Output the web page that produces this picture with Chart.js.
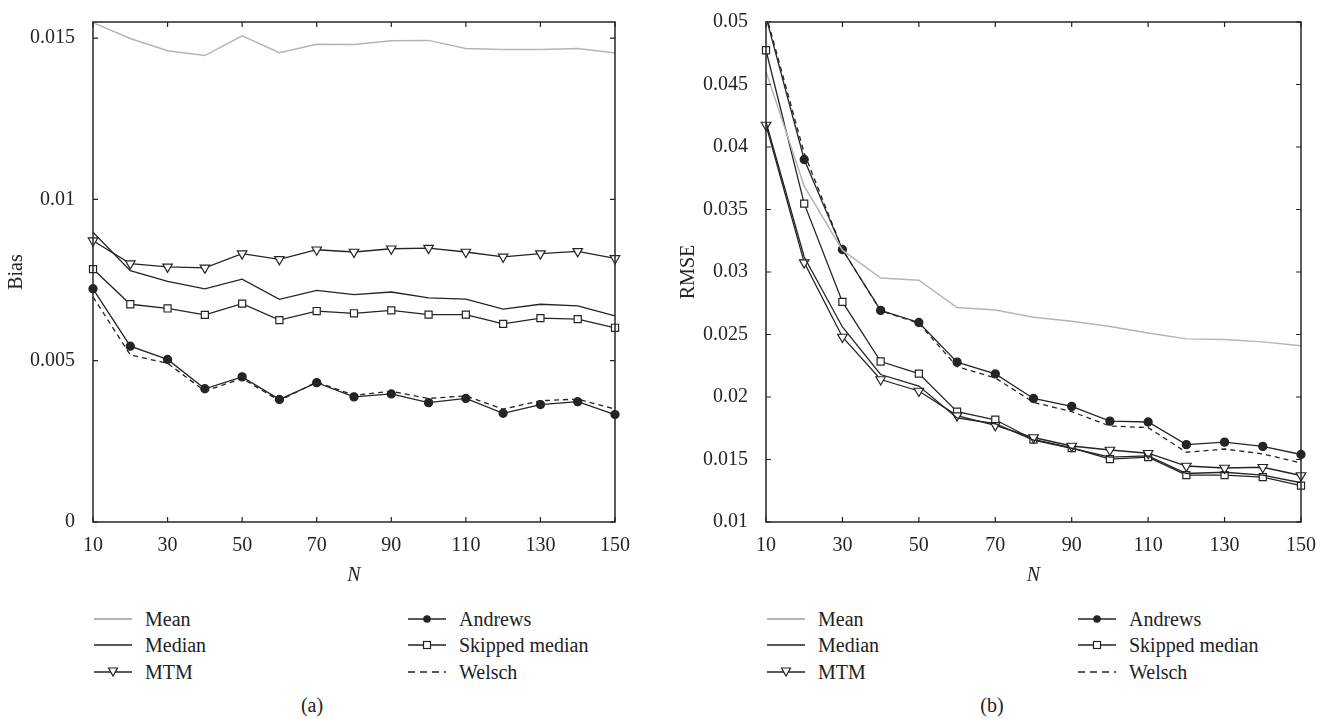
<!DOCTYPE html>
<html>
<head>
<meta charset="utf-8">
<script src="https://cdn.jsdelivr.net/npm/chart.js@4.4.1/dist/chart.umd.min.js"></script>
<style>
  body { margin: 0; background: #fff; font-family: "Liberation Serif", serif; color: #222; }
  #page { position: relative; width: 1326px; height: 719px; overflow: hidden; }
  .box { position: absolute; top: 0; height: 600px; width: 663px; }
  .leg { position: absolute; height: 26px; display: flex; align-items: center; font-size: 20px; white-space: nowrap; }
  .leg svg { margin-right: 13px; }
  .cap { position: absolute; top: 694px; font-size: 20px; transform: translateX(-50%); }
</style>
</head>
<body>
<div id="page">
  <div class="box" style="left:0"><canvas id="biasChart"></canvas></div>
  <div class="box" style="left:663px"><canvas id="rmseChart"></canvas></div>
  <div class="cap" style="left:312px">(a)</div>
  <div class="cap" style="left:992px">(b)</div>
</div>
<script>
const nValues = [10, 20, 30, 40, 50, 60, 70, 80, 90, 100, 110, 120, 130, 140, 150];
const xTicks = [10, 30, 50, 70, 90, 110, 130, 150];
const seriesNames = ['Mean', 'Median', 'MTM', 'Andrews', 'Skipped median', 'Welsch'];

// (a) Bias
const biasMean    = [0.01548, 0.01499, 0.01461, 0.01446, 0.01507, 0.01455, 0.01481, 0.01480, 0.01492, 0.01493, 0.01468, 0.01465, 0.01465, 0.01468, 0.01454];
const biasMedian  = [0.00898, 0.00779, 0.00746, 0.00723, 0.00753, 0.00690, 0.00718, 0.00705, 0.00713, 0.00695, 0.00691, 0.00660, 0.00675, 0.00670, 0.00639];
const biasMTM     = [0.00872, 0.00801, 0.00791, 0.00788, 0.00832, 0.00814, 0.00844, 0.00837, 0.00847, 0.00849, 0.00837, 0.00822, 0.00832, 0.00839, 0.00817];
const biasAndrews = [0.00723, 0.00545, 0.00504, 0.00413, 0.00450, 0.00380, 0.00432, 0.00388, 0.00397, 0.00370, 0.00383, 0.00337, 0.00364, 0.00373, 0.00333];
const biasSkipped = [0.00784, 0.00675, 0.00662, 0.00642, 0.00677, 0.00626, 0.00654, 0.00647, 0.00656, 0.00643, 0.00643, 0.00614, 0.00632, 0.00629, 0.00602];
const biasWelsch  = [0.00698, 0.00518, 0.00492, 0.00406, 0.00445, 0.00376, 0.00434, 0.00393, 0.00405, 0.00383, 0.00391, 0.00350, 0.00376, 0.00381, 0.00350];
const biasTicks = [0, 0.005, 0.01, 0.015];

// (b) RMSE
const rmseMean    = [0.04603, 0.03686, 0.03175, 0.02952, 0.02934, 0.02716, 0.02696, 0.02638, 0.02606, 0.02564, 0.02512, 0.02465, 0.02460, 0.02441, 0.02410];
const rmseMedian  = [0.04200, 0.03120, 0.02560, 0.02180, 0.02087, 0.01833, 0.01786, 0.01655, 0.01590, 0.01519, 0.01529, 0.01388, 0.01398, 0.01375, 0.01314];
const rmseMTM     = [0.04176, 0.03075, 0.02480, 0.02140, 0.02048, 0.01851, 0.01773, 0.01676, 0.01608, 0.01576, 0.01550, 0.01448, 0.01432, 0.01438, 0.01372];
const rmseAndrews = [0.05040, 0.03900, 0.03180, 0.02693, 0.02596, 0.02279, 0.02185, 0.01988, 0.01925, 0.01807, 0.01800, 0.01619, 0.01639, 0.01605, 0.01540];
const rmseSkipped = [0.04774, 0.03547, 0.02761, 0.02284, 0.02187, 0.01883, 0.01818, 0.01660, 0.01592, 0.01503, 0.01519, 0.01375, 0.01375, 0.01359, 0.01291];
const rmseWelsch  = [0.05060, 0.03950, 0.03180, 0.02690, 0.02590, 0.02242, 0.02153, 0.01957, 0.01883, 0.01768, 0.01755, 0.01558, 0.01584, 0.01545, 0.01472];
const rmseTicks = [0.01, 0.015, 0.02, 0.025, 0.03, 0.035, 0.04, 0.045, 0.05];

const INK = '#242424';
const GREY = '#b5b5b5';
const styles = [
  { borderColor: GREY, borderWidth: 1.5, pointRadius: 0 },
  { borderColor: INK, borderWidth: 1.3, pointRadius: 0 },
  { borderColor: INK, borderWidth: 1.3, pointStyle: 'triangle', rotation: 180, pointRadius: 5.5, pointBackgroundColor: '#fff', pointBorderColor: INK, pointBorderWidth: 1.2 },
  { borderColor: INK, borderWidth: 1.3, pointStyle: 'circle', pointRadius: 4, pointBackgroundColor: INK, pointBorderColor: INK },
  { borderColor: INK, borderWidth: 1.3, pointStyle: 'rect', pointRadius: 5, pointBackgroundColor: '#fff', pointBorderColor: INK, pointBorderWidth: 1.2 },
  { borderColor: INK, borderWidth: 1.3, borderDash: [5, 4], pointRadius: 0 }
];

const font = { family: '"Liberation Serif", serif', size: 20 };

// box frame plus inward tick marks on all four sides
const frameTicks = {
  id: 'frameTicks',
  afterDatasetsDraw(chart) {
    const { ctx, chartArea: a, scales: { x, y } } = chart;
    ctx.save();
    ctx.strokeStyle = INK;
    ctx.lineWidth = 1.5;
    ctx.strokeRect(a.left, a.top, a.right - a.left, a.bottom - a.top);
    ctx.lineWidth = 1.2;
    ctx.beginPath();
    x.ticks.forEach(t => {
      const px = x.getPixelForValue(t.value);
      ctx.moveTo(px, a.bottom); ctx.lineTo(px, a.bottom - 5);
      ctx.moveTo(px, a.top); ctx.lineTo(px, a.top + 5);
    });
    y.ticks.forEach(t => {
      const py = y.getPixelForValue(t.value);
      ctx.moveTo(a.left, py); ctx.lineTo(a.left + 5, py);
      ctx.moveTo(a.right, py); ctx.lineTo(a.right - 5, py);
    });
    ctx.stroke();
    ctx.restore();
  }
};

function makeChart(id, series, yTicks, yMin, yMax, yTitle, yWidth, titlePad, padRight, padTop, clip) {
  return new Chart(document.getElementById(id), {
    type: 'line',
    data: {
      labels: nValues,
      datasets: series.map((vals, i) => Object.assign({
        label: seriesNames[i],
        data: nValues.map((n, k) => ({ x: n, y: vals[k] })),
        fill: false,
        tension: 0,
        clip: clip
      }, styles[i]))
    },
    options: {
      responsive: true,
      maintainAspectRatio: false,
      animation: false,
      layout: { padding: { left: 0, right: padRight, top: padTop, bottom: 0 } },
      plugins: { legend: { display: false }, tooltip: { enabled: false } },
      scales: {
        x: {
          type: 'linear', min: 10, max: 150,
          afterBuildTicks: s => { s.ticks = xTicks.map(v => ({ value: v })); },
          afterFit: s => { s.height = 78; },
          grid: { display: false },
          border: { display: false },
          ticks: { font: font, color: INK, padding: 4, maxRotation: 0, callback: v => String(v) },
          title: { display: true, text: 'N', font: Object.assign({ style: 'italic' }, font), color: INK, padding: { top: 0, bottom: 12 } }
        },
        y: {
          min: yMin, max: yMax,
          afterBuildTicks: s => { s.ticks = yTicks.map(v => ({ value: v })); },
          afterFit: s => { s.width = yWidth; },
          grid: { display: false },
          border: { display: false },
          ticks: { font: font, color: INK, padding: 10, callback: v => String(v) },
          title: { display: true, text: yTitle, font: font, color: INK, padding: { top: titlePad, bottom: 0 } }
        }
      }
    },
    plugins: [frameTicks]
  });
}

makeChart('biasChart', [biasMean, biasMedian, biasMTM, biasAndrews, biasSkipped, biasWelsch],
  biasTicks, 0, 0.0155, 'Bias', 93, 5, 48, 13, false);
makeChart('rmseChart', [rmseMean, rmseMedian, rmseMTM, rmseAndrews, rmseSkipped, rmseWelsch],
  rmseTicks, 0.01, 0.05, 'RMSE', 103, 14, 25, 11, { left: 10, top: 0, right: 10, bottom: 10 });

// legends (two columns under each panel)
function icon(i) {
  const s = styles[i];
  let svg = '<svg width="38" height="14" viewBox="0 0 38 14">';
  const dash = s.borderDash ? ' stroke-dasharray="7 5"' : '';
  svg += '<line x1="0" y1="7" x2="38" y2="7" stroke="' + s.borderColor + '" stroke-width="' + (s.borderWidth + 0.3) + '"' + dash + '/>';
  if (s.pointStyle === 'circle') svg += '<circle cx="19" cy="7" r="3.8" fill="' + INK + '"/>';
  if (s.pointStyle === 'rect') svg += '<rect x="15.5" y="3.5" width="7" height="7" fill="#fff" stroke="' + INK + '" stroke-width="1.2"/>';
  if (s.pointStyle === 'triangle') svg += '<polygon points="14.5,3 23.5,3 19,11" fill="#fff" stroke="' + INK + '" stroke-width="1.2"/>';
  return svg + '</svg>';
}
const legendCols = [[94, 408], [767, 1078]];
const rowY = [606, 632, 659];
const page = document.getElementById('page');
legendCols.forEach(cols => {
  seriesNames.forEach((name, i) => {
    const d = document.createElement('div');
    d.className = 'leg';
    d.style.left = cols[Math.floor(i / 3)] + 'px';
    d.style.top = rowY[i % 3] + 'px';
    d.innerHTML = icon(i) + '<span>' + name + '</span>';
    page.appendChild(d);
  });
});
</script>
</body>
</html>
